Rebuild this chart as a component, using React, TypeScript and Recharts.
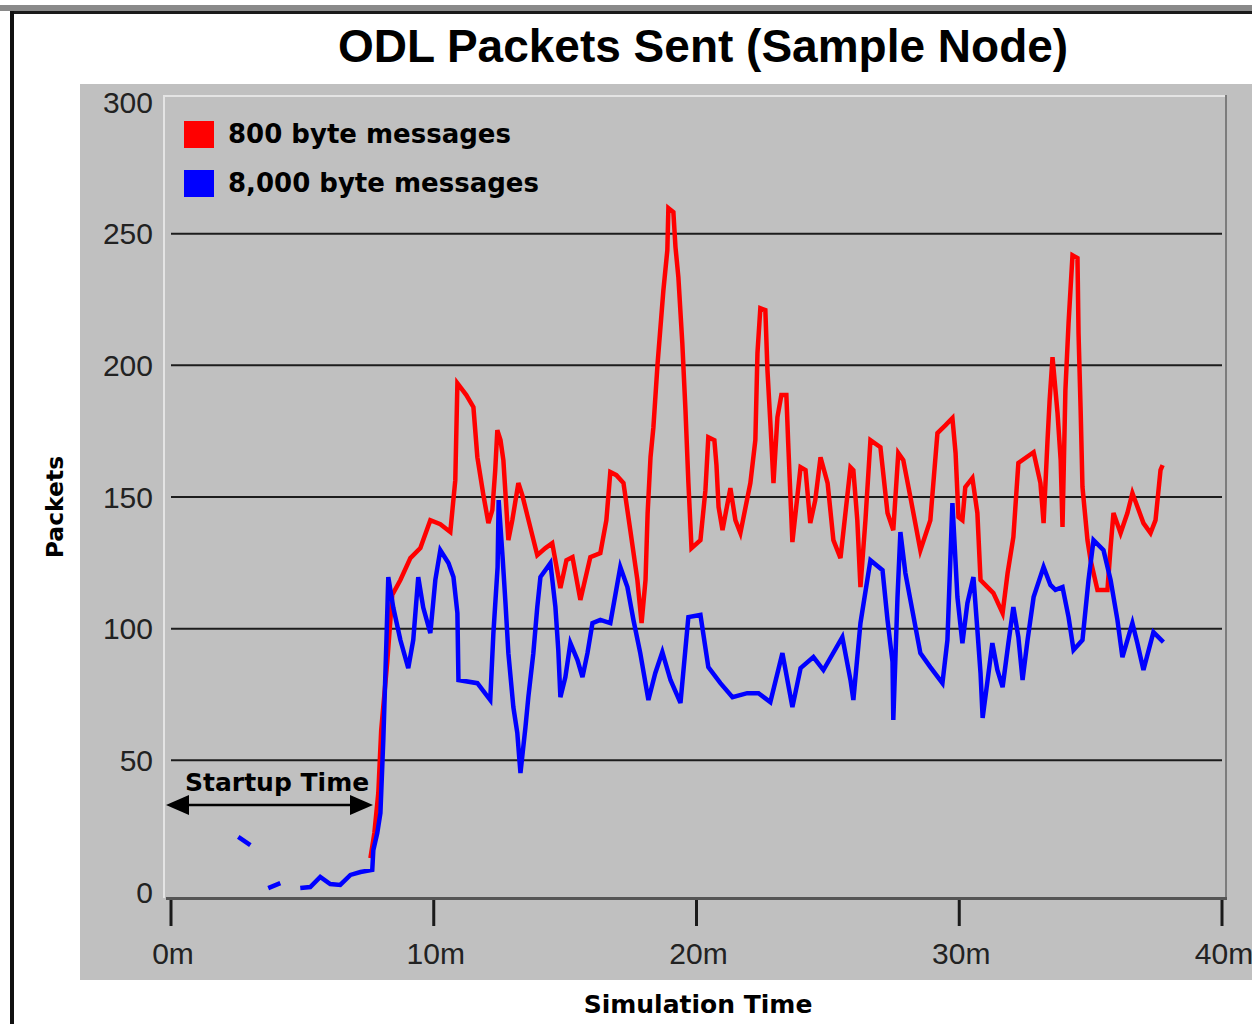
import React from "react";
import { LineChart, Line, XAxis, YAxis, CartesianGrid } from "recharts";

// ---- data (minutes, packets) ----
const redTime = [
  7.59, 7.74, 7.89, 8.0, 8.23, 8.42, 8.73, 9.11, 9.49, 9.87, 10.25, 10.63, 10.82, 10.9, 11.24, 11.51, 11.66,
  11.89, 12.08, 12.23, 12.34, 12.42, 12.54, 12.65, 12.84, 12.99, 13.22, 13.37, 13.56, 13.94, 14.25, 14.51,
  14.82, 15.05, 15.28, 15.58, 15.96, 16.34, 16.57, 16.72, 16.95, 17.22, 17.48, 17.75, 17.91, 18.06, 18.14,
  18.25, 18.36, 18.52, 18.74, 18.89, 18.93, 19.12, 19.2, 19.31, 19.46, 19.58, 19.69, 19.81, 20.15, 20.34,
  20.45, 20.68, 20.76, 20.84, 20.99, 21.29, 21.48, 21.67, 22.05, 22.24, 22.32, 22.43, 22.62, 22.7, 22.82,
  22.93, 23.08, 23.23, 23.42, 23.49, 23.57, 23.65, 23.96, 24.15, 24.33, 24.52, 24.72, 24.99, 25.21, 25.48,
  25.86, 25.97, 26.12, 26.24, 26.43, 26.62, 27.0, 27.27, 27.49, 27.68, 27.87, 28.14, 28.52, 28.9, 29.17,
  29.48, 29.74, 29.86, 29.97, 30.12, 30.23, 30.5, 30.69, 30.81, 31.3, 31.65, 31.84, 32.06, 32.25, 32.83,
  33.09, 33.21, 33.36, 33.44, 33.55, 33.74, 33.86, 33.93, 34.04, 34.16, 34.31, 34.5, 34.54, 34.62, 34.69,
  34.88, 35.0, 35.26, 35.64, 35.76, 35.87, 36.14, 36.4, 36.59, 37.01, 37.28, 37.47, 37.66, 37.74,
];
const redPackets = [
  12.9, 22.4, 37.6, 61.5, 87.3, 112.8, 118.5, 126.8, 130.6, 141.2, 139.7, 136.7, 156.4, 193.2, 188.7, 184.1, 165.1,
  150.7, 140.1, 145, 160.2, 175.4, 171.6, 164, 133.6, 141.2, 155.3, 150.7, 143.1, 127.9, 130.6, 132.5,
  115.4, 126, 127.2, 110.9, 127.2, 128.7, 141.2, 159.5, 158.3, 155.3, 137.4, 118.5, 102.1, 118.5, 143.9,
  165.1, 176.5, 200.8, 228.5, 243.7, 259.7, 258.2, 244.9, 233.5, 208.4, 183, 155.7, 130.6, 133.6, 152.6,
  172.7, 171.6, 162.1, 146.2, 137.4, 153.4, 141.2, 136.3, 155.3, 171.6, 204.6, 221.7, 221, 198.2, 176.5,
  155.3, 180.3, 188.7, 188.7, 170.5, 151.5, 132.9, 161.3, 160.2, 140.1, 148.8, 165.1, 155.3, 133.6, 126.8,
  161.3, 160.2, 141.2, 115.8, 141.2, 171.6, 168.9, 143.9, 137.4, 166.7, 164, 150, 129.8, 141.2, 174.3,
  177.3, 180, 166.7, 142.4, 141.2, 153.8, 157.2, 143.9, 118.5, 113.5, 105.9, 121.1, 134.8, 162.9, 167,
  155.3, 140.1, 171.6, 186.8, 203.1, 181.9, 164, 138.6, 190.6, 216, 241.8, 240.7, 212.2, 183, 153.8,
  133.6, 126, 114.7, 114.7, 131, 143.9, 136.3, 143.9, 151.5, 140.1, 136.3, 141.2, 160.2, 162.1,
];

const blueTime = [
  2.56, 3.02, 3.3, 3.7, 4.16, 4.5, 4.92, 5.3, 5.68, 6.06, 6.44, 6.83, 7.21, 7.66, 7.7, 7.85, 7.97, 8.08, 8.2,
  8.27, 8.46, 8.73, 9.03, 9.22, 9.41, 9.6, 9.87, 10.06, 10.25, 10.56, 10.75, 10.9, 10.94, 11.66, 12.15,
  12.27, 12.43, 12.47, 12.62, 12.73, 12.84, 13.03, 13.18, 13.3, 13.49, 13.6, 13.79, 13.94, 14.06, 14.44,
  14.63, 14.74, 14.82, 15.01, 15.2, 15.47, 15.66, 15.85, 16.04, 16.34, 16.72, 17.1, 17.37, 17.6, 17.86,
  18.17, 18.43, 18.7, 19.01, 19.39, 19.69, 20.15, 20.45, 20.91, 21.37, 21.93, 22.36, 22.81, 23.27, 23.65,
  23.96, 24.45, 24.83, 25.55, 25.86, 25.97, 26.24, 26.62, 27.08, 27.27, 27.46, 27.49, 27.65, 27.76, 27.95,
  28.14, 28.52, 28.9, 29.36, 29.55, 29.67, 29.74, 29.93, 30.12, 30.31, 30.54, 30.69, 30.81, 30.89, 31.08,
  31.26, 31.45, 31.65, 31.87, 32.06, 32.25, 32.41, 32.6, 32.83, 33.21, 33.47, 33.66, 33.93, 34.16, 34.35,
  34.69, 34.92, 35.11, 35.49, 35.76, 36.02, 36.21, 36.59, 36.78, 37.01, 37.39, 37.77,
];
const bluePackets: (number | null)[] = [
  20.9, 17.8, null, 1.5, 3.4, null, 1.5, 1.9, 5.7, 3.0, 2.7, 6.5, 7.6, 8.4, 15.9, 22.4, 30, 57.7, 95.7,
  119.6, 108, 95.7, 85, 95.7, 119.6, 108, 98.3, 118.5, 129.8, 124.9, 119.6, 105.9, 80.5, 79.3, 72.9,
  98.3, 123.4, 148.8, 127.2, 109.7, 90.7, 70.2, 60.4, 45.2, 62.6, 74, 90.7, 108.2, 119.6, 124.9,
  108.2, 91.9, 74, 81.6, 94.5, 88.1, 81.6, 90.7, 102.1, 103.3, 102.1, 123.4, 115.8, 103.3, 90.7,
  72.9, 83.1, 91.1, 80.5, 71.8, 104.4, 105.2, 85.4, 79.3, 74, 75.5, 75.5, 72.1, 90.7, 70.2,
  85, 89.2, 84.3, 96.8, 80.5, 72.9, 102.1, 126, 122.2, 103.3, 87.3, 65.3, 112, 136.7, 121.1,
  110.9, 90.7, 85.4, 79.3, 95.7, 128.7, 147.7, 112, 94.5, 109.7, 119.6, 99.5, 83.1, 66.1, 80.5,
  94.5, 84.3, 77.8, 94.5, 108.2, 96.8, 80.5, 95.7, 112, 123.4, 116.6, 114.7, 115.8, 104.4, 91.9,
  95.7, 118.5, 133.6, 129.8, 118.5, 103.3, 89.2, 102.1, 94.5, 84.3, 98.7, 94.9,
];

const xTicks = [0, 10, 20, 30, 40];
const xTickLabels = ["0m", "10m", "20m", "30m", "40m"];
const yTicks = [0, 50, 100, 150, 200, 250, 300];
const gridValues = [50, 100, 150, 200, 250];
const seriesNames = ["800 byte messages", "8,000 byte messages"];
const seriesColors = ["#ff0000", "#0000ff"];

const redData = redTime.map((t, i) => ({ t, v: redPackets[i] }));
const blueData = blueTime.map((t, i) => ({ t, v: bluePackets[i] }));

const TICK_FONT = "'Liberation Sans', Arial, sans-serif";
const LABEL_FONT = "'DejaVu Sans', Verdana, sans-serif";

const XTick = (props: any) => {
  const { x, y, payload } = props;
  const idx = xTicks.indexOf(payload.value);
  return (
    <g>
      <line x1={x} x2={x} y1={y + 8} y2={y + 34} stroke="#1a1a1a" strokeWidth={3} />
      <text x={x + 2} y={y + 72} textAnchor="middle" fontFamily={TICK_FONT} fontSize={30} fill="#222">
        {idx >= 0 ? xTickLabels[idx] : payload.value}
      </text>
    </g>
  );
};

export default function App() {
  return (
    <div style={{ position: "absolute", left: 0, top: 0, width: 1252, height: 1024, background: "#fff", overflow: "hidden" }}>
      {/* window frame */}
      <div style={{ position: "absolute", left: 0, top: 5, width: 1252, height: 6, background: "#8a8a8a" }} />
      <div style={{ position: "absolute", left: 10, top: 11, width: 1242, height: 3, background: "#1a1a1a" }} />
      <div style={{ position: "absolute", left: 10, top: 11, width: 4, height: 1013, background: "#111" }} />
      {/* gray panel */}
      <div style={{ position: "absolute", left: 80, top: 84, width: 1172, height: 896, background: "#c0c0c0" }} />
      {/* plot frame */}
      <div style={{ position: "absolute", left: 163, top: 95, width: 1064, height: 2, background: "#e4e4e4" }} />
      <div style={{ position: "absolute", left: 163, top: 95, width: 2, height: 803, background: "#e4e4e4" }} />
      <div style={{ position: "absolute", left: 1225, top: 95, width: 2, height: 805, background: "#7c7c7c" }} />
      <div style={{ position: "absolute", left: 166, top: 897, width: 1061, height: 3, background: "#555" }} />
      {/* title */}
      <div
        style={{
          position: "absolute", left: 0, top: 18, width: 1406, textAlign: "center",
          fontFamily: TICK_FONT, fontWeight: "bold", fontSize: 46, color: "#000", lineHeight: "56px",
        }}
      >
        ODL Packets Sent (Sample Node)
      </div>

      <div style={{ position: "absolute", left: 0, top: 0 }}>
        <LineChart width={1252} height={1024} data={redData} margin={{ top: 102, right: 30, left: 111, bottom: 72 }}>
          <CartesianGrid horizontal vertical={false} horizontalValues={gridValues} stroke="#1c1c1c" strokeWidth={2} strokeDasharray="" />
          <XAxis
            type="number"
            dataKey="t"
            domain={[0, 40]}
            ticks={xTicks}
            axisLine={false}
            tickLine={false}
            tickSize={0}
            tickMargin={0}
            height={60}
            interval={0}
            tick={<XTick />}
            allowDataOverflow
          />
          <YAxis
            type="number"
            domain={[0, 300]}
            ticks={yTicks}
            axisLine={false}
            tickLine={false}
            tickSize={0}
            tickMargin={18}
            width={60}
            interval={0}
            tick={{ fontFamily: TICK_FONT, fontSize: 30, fill: "#222" }}
          />
          <Line data={redData} dataKey="v" type="linear" stroke={seriesColors[0]} strokeWidth={4.5} strokeLinejoin="miter" dot={false} isAnimationActive={false} connectNulls={false} />
          <Line data={blueData} dataKey="v" type="linear" stroke={seriesColors[1]} strokeWidth={4.5} strokeLinejoin="miter" dot={false} isAnimationActive={false} connectNulls={false} />
        </LineChart>
      </div>

      {/* legend */}
      {seriesNames.map((name, i) => (
        <div key={name} style={{ position: "absolute", left: 184, top: 120 + i * 49, height: 28, display: "flex", alignItems: "center" }}>
          <div style={{ width: 30, height: 27, background: seriesColors[i] }} />
          <span style={{ marginLeft: 14, fontFamily: LABEL_FONT, fontWeight: "bold", fontSize: 26, color: "#000", lineHeight: "28px" }}>{name}</span>
        </div>
      ))}

      {/* annotations and axis titles */}
      <svg width={1252} height={1024} style={{ position: "absolute", left: 0, top: 0, pointerEvents: "none" }}>
        <text x={185} y={791} fontFamily={LABEL_FONT} fontWeight="bold" fontSize={25} fill="#000">Startup Time</text>
        <line x1={185} x2={355} y1={805} y2={805} stroke="#000" strokeWidth={2.5} />
        <polygon points="166,805 189,795 189,815" fill="#000" />
        <polygon points="373,805 350,795 350,815" fill="#000" />
        <text x={0} y={0} transform="translate(63,507) rotate(-90)" textAnchor="middle" fontFamily={LABEL_FONT} fontWeight="bold" fontSize={23.5} fill="#000">Packets</text>
        <text x={698} y={1013} textAnchor="middle" fontFamily={LABEL_FONT} fontWeight="bold" fontSize={25} fill="#000">Simulation Time</text>
      </svg>
    </div>
  );
}
